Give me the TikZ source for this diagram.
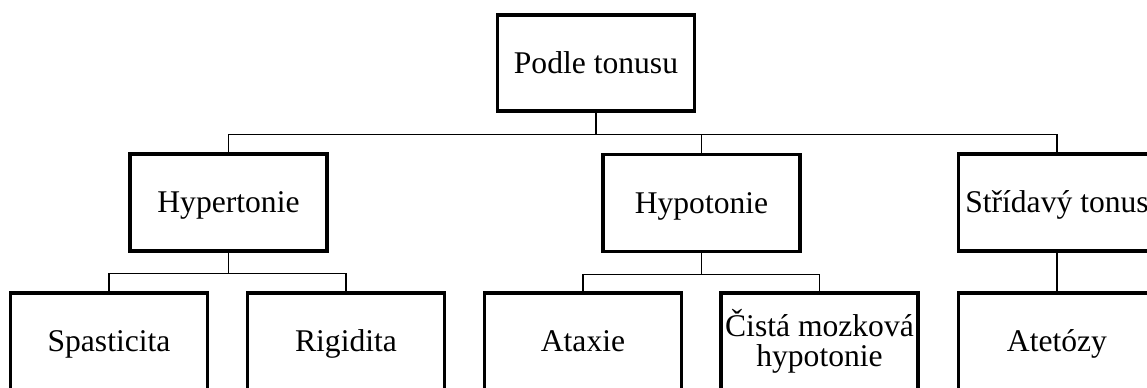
\documentclass[tikz,border=0pt]{standalone}
\usepackage{fontspec}
\setmainfont{Liberation Serif}
\usetikzlibrary{positioning}

\begin{document}
\begin{tikzpicture}[x=0.75pt,y=-0.75pt,
	box/.style={draw,line width=2.4pt,minimum width=147.75pt,minimum height=72.75pt,inner sep=0pt,align=center,text height=15.7pt,text depth=0pt,font=\fontsize{23.7}{22.5}\selectfont},
	twoline/.style={text height=38.2pt},
	link/.style={line width=0.8pt}]
	\useasboundingbox (0,0) rectangle (1147,388);
	\node[box,minimum height=72pt] (0) at (596, 63) {Podle tonusu};
	\node[box] (1) at (228.5, 202.5) {Hypertonie};
	\node[box] (2) at (701.5, 203) {Hypotonie};
	\node[box] (3) at (1057, 202.5) {Střídavý tonus};
	\node[box] (4) at (109, 341.5) {Spasticita};
	\node[box] (5) at (346, 341.5) {Rigidita};
	\node[box] (6) at (583, 341.5) {Ataxie};
	\node[box,twoline] (7) at (819.5, 341.5) {Čistá mozková\\hypotonie};
	\node[box] (8) at (1057, 341.5) {Atetózy};
	\draw[link] (0.south) -- ++(0,22) -| (1.north);
	\draw[link] (0.south) -- ++(0,22) -| (2.north);
	\draw[link] (0.south) -- ++(0,22) -| (3.north);
	\draw[link] (1.south) -- ++(0,21) -| (4.north);
	\draw[link] (1.south) -- ++(0,21) -| (5.north);
	\draw[link] (2.south) -- ++(0,21) -| (6.north);
	\draw[link] (2.south) -- ++(0,21) -| (7.north);
	\draw[link] (3) -- (8);
\end{tikzpicture}
\end{document}
